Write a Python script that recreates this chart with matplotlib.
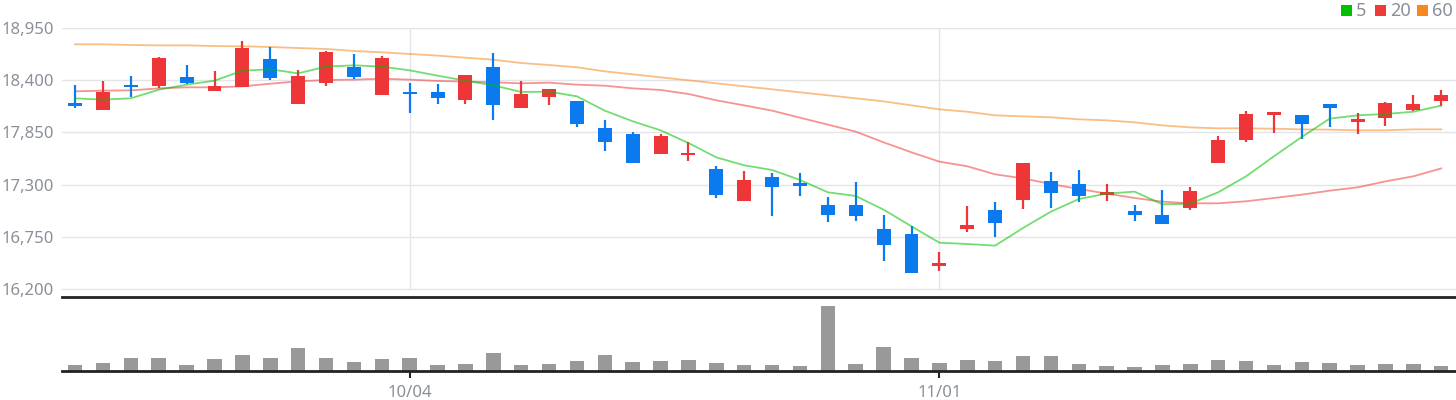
import numpy as np
import matplotlib
matplotlib.use('Agg')
import matplotlib.pyplot as plt
from matplotlib.patches import Rectangle

plt.rcParams['font.family'] = ['Noto Sans', 'DejaVu Sans']

# ____________________________ datos ____________________________

opens  = [18160, 18083, 18345, 18342, 18437, 18283, 18325, 18627, 18153, 18374,
          18543, 18248, 18265, 18279, 18195, 18543, 18111, 18227, 18184, 17900,
          17837, 17626, 17612, 17468, 17131, 17384, 17320, 17089, 17089, 16836,
          16783, 16446, 16836, 17036, 17141, 17342, 17310, 17195, 17025, 16983,
          17057, 17531, 17773, 18037, 18037, 18153, 17963, 18005, 18090, 18184]
closes = [18125, 18279, 18330, 18637, 18374, 18342, 18743, 18427, 18448, 18700,
          18437, 18637, 18250, 18216, 18458, 18142, 18258, 18311, 17942, 17752,
          17531, 17816, 17628, 17194, 17352, 17278, 17285, 16983, 16973, 16667,
          16372, 16478, 16878, 16899, 17531, 17215, 17183, 17210, 16983, 16888,
          17236, 17773, 18047, 18068, 17942, 18111, 17995, 18163, 18153, 18248]
highs  = [18350, 18395, 18448, 18648, 18564, 18500, 18817, 18753, 18511, 18711,
          18680, 18658, 18374, 18364, 18458, 18690, 18395, 18311, 18184, 17984,
          17858, 17837, 17752, 17500, 17447, 17426, 17426, 17173, 17331, 16983,
          16867, 16593, 17078, 17120, 17531, 17436, 17457, 17310, 17089, 17247,
          17278, 17816, 18079, 18068, 18037, 18153, 18058, 18174, 18248, 18300]
lows   = [18105, 18083, 18227, 18314, 18364, 18283, 18325, 18406, 18153, 18342,
          18416, 18248, 18058, 18153, 18153, 17984, 18111, 18142, 17910, 17658,
          17531, 17626, 17552, 17162, 17131, 16973, 17184, 16910, 16920, 16499,
          16372, 16393, 16804, 16751, 17046, 17057, 17120, 17131, 16920, 16888,
          17036, 17531, 17752, 17847, 17784, 17910, 17837, 17921, 18079, 18132]

ma5  = [18209, 18195, 18209, 18300, 18353, 18395, 18500, 18515, 18472, 18543,
        18557, 18543, 18504, 18448, 18395, 18346, 18276, 18279, 18230, 18079,
        17967, 17872, 17738, 17587, 17503, 17454, 17349, 17219, 17180, 17036,
        16860, 16688, 16674, 16657, 16843, 17015, 17148, 17205, 17226, 17092,
        17099, 17219, 17387, 17598, 17802, 17995, 18030, 18044, 18068, 18132]
ma20 = [18283, 18290, 18293, 18314, 18325, 18325, 18335, 18363, 18388, 18402,
        18406, 18416, 18406, 18392, 18385, 18378, 18367, 18374, 18353, 18342,
        18314, 18297, 18255, 18188, 18135, 18079, 18005, 17932, 17858, 17745,
        17640, 17542, 17493, 17408, 17366, 17306, 17254, 17205, 17159, 17120,
        17103, 17103, 17124, 17159, 17194, 17236, 17271, 17334, 17387, 17471]
ma60 = [18778, 18778, 18771, 18767, 18767, 18760, 18757, 18750, 18739, 18729,
        18708, 18694, 18676, 18659, 18637, 18616, 18581, 18560, 18536, 18493,
        18462, 18430, 18399, 18367, 18335, 18304, 18272, 18241, 18209, 18177,
        18135, 18093, 18068, 18030, 18019, 18009, 17988, 17977, 17956, 17924,
        17903, 17893, 17893, 17889, 17882, 17879, 17872, 17872, 17882, 17882]

# volumen en miles (escala relativa)
volumes = [63, 83, 132, 132, 63, 122, 162, 132, 231, 132,
           92, 122, 132, 63, 73, 182, 63, 73, 102, 162,
           92, 102, 112, 83, 63, 63, 53, 647, 73, 241,
           132, 83, 112, 102, 152, 152, 73, 53, 43, 63,
           73, 112, 102, 63, 92, 83, 63, 73, 73, 53]

price_ticks = [16200, 16750, 17300, 17850, 18400, 18950]
date_idx = [12, 31]
date_labels = ['10/04', '11/01']

ma_names = ['5', '20', '60']
ma_colors = ['#00c000', '#f03a3a', '#f5891f']

up_color = '#ee3538'
down_color = '#0b7aef'
label_color = '#8a8f99'
grid_color = '#e3e5e9'

# ____________________________ figura ____________________________

W, H = 1456, 400
fig = plt.figure(figsize=(W / 100, H / 100), dpi=100)

left = 62 / W
axv = fig.add_axes([left, (H - 371) / H, 1 - left, (371 - 297) / H])
ax = fig.add_axes([left, (H - 297) / H, 1 - left, (297 - 28) / H])
axv.patch.set_alpha(0)
ax.patch.set_alpha(0)

x = np.arange(len(opens))

# velas
for i in x:
    o, c, h, l = opens[i], closes[i], highs[i], lows[i]
    col = up_color if c >= o else down_color
    ax.vlines(i, l, h, color=col, linewidth=1.6, zorder=3)
    body = max(abs(c - o), 24)
    ax.bar(i, body, bottom=min(o, c), width=0.5, color=col, linewidth=0, zorder=4)

# medias moviles
ax.plot(x, ma5, color=ma_colors[0], alpha=0.55, linewidth=1.3, zorder=5)
ax.plot(x, ma20, color=ma_colors[1], alpha=0.55, linewidth=1.3, zorder=2)
ax.plot(x, ma60, color=ma_colors[2], alpha=0.55, linewidth=1.3, zorder=2)

px_per_price = (289 - 28) / (18950 - 16200)
ax.set_ylim(16200 - (297 - 289) / px_per_price, 18950)
ax.set_xlim(-0.47, 49.53)
ax.set_yticks(price_ticks)
ax.set_yticklabels([f'{v:,}' for v in price_ticks])
ax.set_xticks([])
ax.tick_params(axis='y', length=0, pad=6, labelsize=12, labelcolor=label_color)
for v in price_ticks:
    ax.axhline(v, color=grid_color, linewidth=1, zorder=0)
for i in date_idx:
    ax.axvline(i, ymin=(297 - 289) / (297 - 28), color=grid_color, linewidth=1, zorder=0)
for s in ['top', 'right', 'left']:
    ax.spines[s].set_visible(False)
ax.spines['bottom'].set_color('#222222')
ax.spines['bottom'].set_linewidth(2)
ax.spines['bottom'].set_zorder(10)

# volumen
axv.bar(x, volumes, width=0.52, color='#999999', linewidth=0)
axv.set_xlim(-0.47, 49.53)
axv.set_ylim(0, max(volumes) * 74 / 64.7)
axv.set_yticks([])
axv.set_xticks(date_idx)
axv.set_xticklabels(date_labels)
axv.tick_params(axis='x', length=5, width=1.5, color='#222222', pad=5,
                labelsize=12, labelcolor=label_color)
for s in ['top', 'right', 'left']:
    axv.spines[s].set_visible(False)
axv.spines['bottom'].set_color('#222222')
axv.spines['bottom'].set_linewidth(2)

# leyenda arriba a la derecha
legend_x = [1341, 1375, 1417]
for lx, name, col in zip(legend_x, ma_names, ma_colors):
    fig.add_artist(Rectangle((lx / W, (H - 16) / H), 11 / W, 11 / H,
                             transform=fig.transFigure, color=col, linewidth=0))
    fig.text((lx + 15) / W, (H - 11) / H, name, fontsize=13, color=label_color,
             va='center', ha='left')

fig.savefig('out.png', dpi=100)
